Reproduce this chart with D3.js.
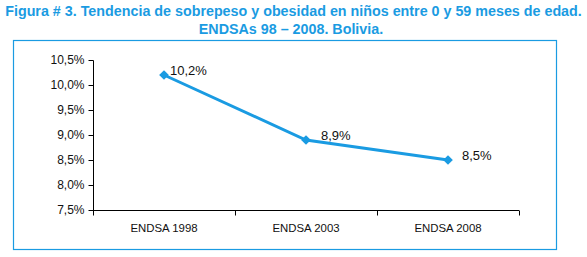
<!DOCTYPE html>
<html><head><meta charset="utf-8">
<script src="https://cdn.jsdelivr.net/npm/d3@7"></script>
<style>
html,body{margin:0;padding:0;background:#fff;}
svg{display:block;font-family:"Liberation Sans",Arial,sans-serif;}
</style></head>
<body><svg id="c" width="587" height="257"></svg>
<script>
const titleLines = ["Figura # 3. Tendencia de sobrepeso y obesidad en niños entre 0 y 59 meses de edad.", "ENDSAs 98 – 2008. Bolivia."];
const categories = ["ENDSA 1998", "ENDSA 2003", "ENDSA 2008"];
const values = [10.2, 8.9, 8.5];
const valueLabels = ["10,2%", "8,9%", "8,5%"];
const yTicks = [7.5, 8.0, 8.5, 9.0, 9.5, 10.0, 10.5];
const yTickLabels = ["7,5%", "8,0%", "8,5%", "9,0%", "9,5%", "10,0%", "10,5%"];

const blue = "#1a9be2";
const svg = d3.select("#c");

svg.append("rect").attr("x",13.5).attr("y",40.5).attr("width",543).attr("height",209)
  .attr("fill","none").attr("stroke",blue).attr("stroke-width",1.2);

const titleX = [293.5, 291];
svg.selectAll("text.title").data(titleLines).join("text").attr("class","title")
  .attr("fill",blue).attr("font-weight","bold").attr("font-size",14.3).attr("text-anchor","middle")
  .attr("x",(d,i)=>titleX[i]).attr("y",(d,i)=>16+i*18)
  .text(d=>d);

const x = d3.scaleBand().domain(categories).range([93,519]);
const y = d3.scaleLinear().domain([7.5,10.5]).range([210,60]);

const yAxis = svg.append("g").attr("transform","translate(93.5,0)")
  .call(d3.axisLeft(y).tickValues(yTicks).tickFormat((d,i)=>yTickLabels[i]).tickSize(5).tickPadding(4));
yAxis.selectAll("text").attr("font-size",12).attr("fill","#111").style("font-family","Liberation Sans, Arial, sans-serif");
yAxis.selectAll("line,path").attr("stroke","#000");
yAxis.select(".domain").attr("d","M0,60.5V210.5");

const xAxis = svg.append("g").attr("transform","translate(0,210.5)");
xAxis.append("line").attr("x1",93).attr("x2",519).attr("stroke","#000");
const bounds = categories.map(c=>x(c)).concat([x(categories[categories.length-1])+x.bandwidth()]);
xAxis.selectAll("line.tk").data(bounds).join("line").attr("class","tk")
  .attr("x1",d=>Math.round(d)+0.5).attr("x2",d=>Math.round(d)+0.5).attr("y1",0).attr("y2",5).attr("stroke","#000");
xAxis.selectAll("text").data(categories).join("text")
  .attr("x",d=>x(d)+x.bandwidth()/2).attr("y",21).attr("text-anchor","middle")
  .attr("font-size",11.4).attr("fill","#111").text(d=>d);

const pts = categories.map((c,i)=>[x(c)+x.bandwidth()/2, y(values[i])]);
svg.append("path").attr("d",d3.line()(pts)).attr("fill","none").attr("stroke",blue).attr("stroke-width",3);
svg.selectAll("path.mk").data(pts).join("path").attr("class","mk")
  .attr("d",d3.symbol(d3.symbolDiamond2,60)()).attr("transform",d=>`translate(${d[0]},${d[1]})`).attr("fill",blue);

const dxs = [6,15,14];
svg.selectAll("text.lbl").data(pts).join("text").attr("class","lbl")
  .attr("x",(d,i)=>d[0]+dxs[i]).attr("y",d=>d[1]-0.5).attr("font-size",13).attr("fill","#111")
  .text((d,i)=>valueLabels[i]);
</script></body></html>
